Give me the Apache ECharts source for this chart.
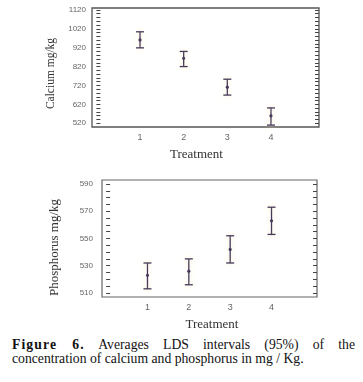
<!DOCTYPE html>
<html>
<head>
<meta charset="utf-8">
<script src="https://cdn.jsdelivr.net/npm/echarts@6/dist/echarts.min.js"></script>
<style>
  html, body { margin: 0; padding: 0; background: #fff; }
  #chart { position: absolute; left: 0; top: 0; width: 363px; height: 336px; }
  #caption {
    position: absolute; left: 12px; top: 338px; width: 343px;
    font-family: "Liberation Serif", "DejaVu Serif", serif; font-size: 13.7px;
    line-height: 14px; color: #111; text-align: left;
  }
  #caption .l1 { display: block; text-align: justify; text-align-last: justify; }
  #caption b { letter-spacing: 1.1px; }
</style>
</head>
<body>
<div id="chart"></div>
<div id="caption"><span class="l1"><b>Figure 6.</b> Averages LDS intervals (95%) of the</span>concentration of calcium and phosphorus in mg / Kg.</div>
<script>
  const treatments = [1, 2, 3, 4]
  // calcium (mg/kg): lower limit, upper limit, mean
  const calciumLow = [919, 820, 669, 510]
  const calciumHigh = [1004, 900, 753, 601]
  const calciumMean = [961, 864, 711, 559]
  // phosphorus (mg/kg)
  const phosphorusLow = [513, 516, 532, 553]
  const phosphorusHigh = [532, 535, 552, 573]
  const phosphorusMean = [523, 526, 542, 563]

  const calciumTicks = [520, 620, 720, 820, 920, 1020, 1120]
  const phosphorusTicks = [510, 530, 550, 570, 590]

  const minorValues = (from, to, step) => {
    const out = []
    for (let v = from; v <= to + 1e-9; v += step) out.push(v)
    return out
  }

  const barColor = '#45385a'
  const labelFont = { fontFamily: 'Liberation Sans', fontSize: 8, color: '#666' }
  const titleFont = { fontFamily: 'Liberation Serif', fontSize: 13, color: '#333' }

  const errorData = (low, high, mean) => treatments.map((t, i) => [t, low[i], high[i], mean[i]])

  const renderErrorBar = (params, api) => {
    const x = api.value(0)
    const lo = api.coord([x, api.value(1)])
    const hi = api.coord([x, api.value(2)])
    const mid = api.coord([x, api.value(3)])
    const cap = 4
    const style = { stroke: barColor, lineWidth: 1.3, shadowColor: 'rgba(240,225,150,0.6)', shadowBlur: 5 }
    return {
      type: 'group',
      children: [
        { type: 'line', shape: { x1: hi[0], y1: hi[1], x2: lo[0], y2: lo[1] }, style },
        { type: 'line', shape: { x1: hi[0] - cap, y1: hi[1], x2: hi[0] + cap, y2: hi[1] }, style },
        { type: 'line', shape: { x1: lo[0] - cap, y1: lo[1], x2: lo[0] + cap, y2: lo[1] }, style },
        { type: 'circle', shape: { cx: mid[0], cy: mid[1], r: 1.6 }, style: { fill: barColor } }
      ]
    }
  }

  const xAxisFor = (gridIndex, padding) => ({
    type: 'value',
    gridIndex,
    min: -0.1,
    max: 5.1,
    name: 'Treatment',
    nameLocation: 'middle',
    nameGap: 21,
    nameTextStyle: Object.assign({ padding }, titleFont),
    axisLine: { show: false },
    axisTick: { show: false },
    splitLine: { show: false },
    axisLabel: Object.assign({}, labelFont, { fontSize: 9, margin: 6, customValues: treatments })
  })

  const yAxisFor = (gridIndex, min, max, labels, step, name, nameGap, nameSize, namePad, margin) => [{
    type: 'value',
    gridIndex,
    min,
    max,
    name,
    nameLocation: 'middle',
    nameGap,
    nameTextStyle: Object.assign({}, titleFont, { fontSize: nameSize, padding: [0, namePad, 0, 0] }),
    axisLine: { show: false },
    splitLine: { show: false },
    axisTick: { inside: true, length: 4, lineStyle: { color: '#444' }, customValues: minorValues(labels[0], labels[labels.length - 1], step) },
    axisLabel: Object.assign({}, labelFont, { margin, customValues: labels, formatter: v => String(v) })
  }, {
    type: 'value',
    gridIndex,
    min,
    max,
    position: 'right',
    axisLine: { show: false },
    splitLine: { show: false },
    axisTick: { inside: true, length: 4, lineStyle: { color: '#444' }, customValues: minorValues(labels[0], labels[labels.length - 1], step) },
    axisLabel: { show: false }
  }]

  const chart = echarts.init(document.getElementById('chart'))
  chart.setOption({
    animation: false,
    grid: [
      { left: 92, top: 8, width: 227, height: 119, show: true, borderColor: '#555', borderWidth: 1.3, backgroundColor: 'transparent' },
      { left: 102, top: 180, width: 215, height: 117, show: true, borderColor: '#666', borderWidth: 1.2, backgroundColor: 'transparent' }
    ],
    xAxis: [xAxisFor(0, [0, 18, 0, 0]), xAxisFor(1, [0, 0, 0, 5])],
    yAxis: [
      ...yAxisFor(0, 500, 1130, calciumTicks, 20, 'Calcium mg/kg', 31, 11.5, 12, 6),
      ...yAxisFor(1, 507, 593, phosphorusTicks, 5, 'Phosphorus mg/kg', 41, 13, 18, 9)
    ],
    series: [
      { type: 'custom', xAxisIndex: 0, yAxisIndex: 0, renderItem: renderErrorBar, data: errorData(calciumLow, calciumHigh, calciumMean) },
      { type: 'custom', xAxisIndex: 1, yAxisIndex: 2, renderItem: renderErrorBar, data: errorData(phosphorusLow, phosphorusHigh, phosphorusMean) }
    ]
  })
</script>
</body>
</html>
